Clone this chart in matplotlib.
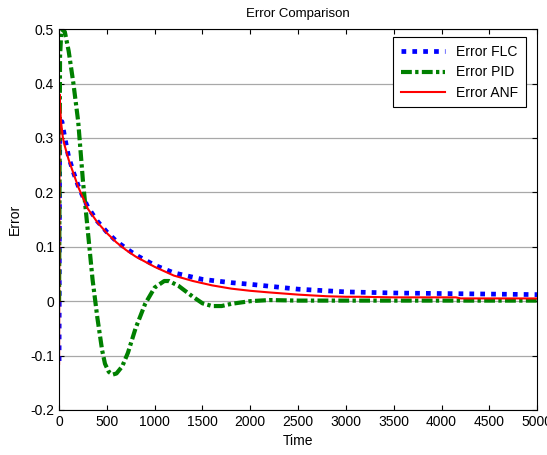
import numpy as np
import matplotlib
matplotlib.use("Agg")
import matplotlib.pyplot as plt

plt.rcParams['font.family'] = ['Liberation Sans', 'DejaVu Sans']

# FLC error
t_flc = [0, 5, 10, 30, 60, 100, 150, 200, 250, 300, 400, 500, 600, 700, 800, 1000,
         1200, 1500, 1800, 2000, 2500, 3000, 3500, 4000, 4500, 5000]
e_flc = [-0.11, 0.25, 0.33, 0.33, 0.30, 0.265, 0.237, 0.212, 0.192, 0.173, 0.147, 0.127,
         0.110, 0.097, 0.085, 0.066, 0.052, 0.040, 0.034, 0.031, 0.022, 0.017, 0.015,
         0.014, 0.013, 0.012]

# PID error
t_pid = [0, 10, 25, 60, 100, 150, 200, 250, 300, 350, 400, 450, 480, 520, 560, 600,
         660, 720, 800, 900, 1000, 1100, 1150, 1250, 1400, 1500, 1600, 1700, 1800,
         2000, 2200, 2500, 3000, 5000]
e_pid = [0.0, 0.45, 0.50, 0.495, 0.46, 0.40, 0.33, 0.22, 0.13, 0.04, -0.03, -0.09,
         -0.115, -0.13, -0.135, -0.133, -0.12, -0.095, -0.05, -0.005, 0.025, 0.037,
         0.037, 0.028, 0.008, -0.004, -0.009, -0.009, -0.005, 0.0, 0.002, 0.001,
         0.001, 0.001]

# ANFIS error
t_anf = [0, 5, 10, 20, 40, 60, 100, 150, 200, 250, 300, 400, 500, 600, 700, 800, 1000,
         1200, 1400, 1600, 1800, 2000, 2200, 2500, 2800, 3000, 3150, 3500, 4000, 4150,
         4200, 4500, 5000]
e_anf = [-0.115, 0.38, 0.36, 0.33, 0.30, 0.285, 0.26, 0.235, 0.21, 0.19, 0.17, 0.145,
         0.125, 0.108, 0.094, 0.082, 0.063, 0.047, 0.037, 0.029, 0.023, 0.019, 0.016,
         0.012, 0.009, 0.008, 0.008, 0.007, 0.007, 0.007, 0.005, 0.005, 0.005]

fig = plt.figure(figsize=(5.47, 4.55), dpi=100)
ax = fig.add_axes([0.108, 0.099, 0.874, 0.837])

ax.plot(t_flc, e_flc, color='blue', lw=3.4, linestyle=(0, (1, 1.3)), label='Error FLC')
ax.plot(t_pid, e_pid, color=(0, 0.5, 0), lw=3.0, linestyle=(0, (2.6, 0.8, 0.8, 0.8)),
        label='Error PID')
ax.plot(t_anf, e_anf, color='red', lw=1.5, label='Error ANF')

ax.set_xlim(0, 5000)
ax.set_ylim(-0.2, 0.5)
ax.set_xticks(np.arange(0, 5001, 500))
ax.set_yticks(np.arange(-0.2, 0.51, 0.1))
ax.set_yticklabels(['-0.2', '-0.1', '0', '0.1', '0.2', '0.3', '0.4', '0.5'])
ax.yaxis.grid(True, color='#a8a8a8', lw=0.9)
ax.set_axisbelow(True)
ax.tick_params(direction='in', top=True, right=True, length=3.5, labelsize=10)
for s in ax.spines.values():
    s.set_linewidth(0.8)

ax.set_title('Error Comparison', fontsize=9.5, pad=9)
ax.set_xlabel('Time', fontsize=10)
ax.set_ylabel('Error', fontsize=10, labelpad=6)

leg = ax.legend(loc='upper right', bbox_to_anchor=(0.977, 0.978), fontsize=10,
                fancybox=False, edgecolor='black', framealpha=1, handlelength=3.2,
                borderaxespad=0, labelspacing=0.45, borderpad=0.55)
leg.get_frame().set_linewidth(0.8)

fig.savefig('out.png', dpi=100)
